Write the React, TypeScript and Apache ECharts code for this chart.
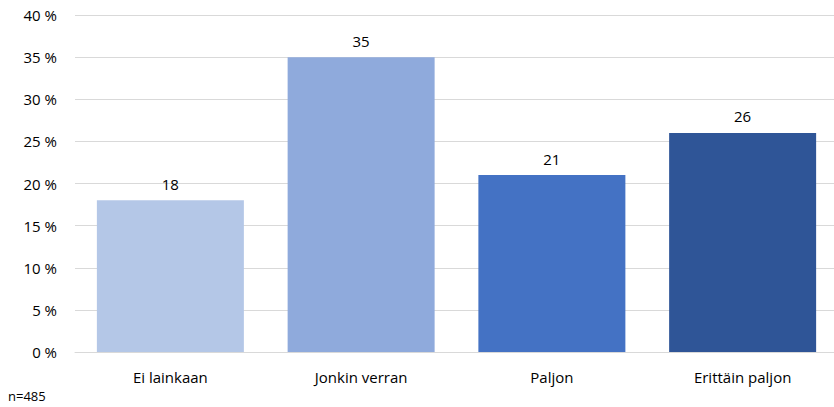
import React, { useEffect, useRef } from "react";
import * as echarts from "echarts";

const categories = ["Ei lainkaan", "Jonkin verran", "Paljon", "Erittäin paljon"];
const values = [18, 35, 21, 26];
const barColors = ["#B4C7E7", "#8FAADC", "#4472C4", "#2F5597"];
const yTicks = { min: 0, max: 40, interval: 5 };
const note = "n=485";

const FONT = "'Open Sans', Lato, sans-serif";

export default function App() {
  const ref = useRef<HTMLDivElement>(null);
  useEffect(() => {
    if (!ref.current) return;
    const chart = echarts.init(ref.current, undefined, { renderer: "svg" });
    chart.setOption({
      animation: false,
      textStyle: { fontFamily: FONT },
      grid: { left: 75, right: 2, top: 15, bottom: 55, containLabel: false },
      xAxis: {
        type: "category",
        data: categories,
        axisLine: { show: true, lineStyle: { color: "#D9D9D9", width: 1 } },
        axisTick: { show: false },
        axisLabel: { color: "#000", fontSize: 15, margin: 17, fontFamily: FONT },
      },
      yAxis: {
        type: "value",
        min: yTicks.min,
        max: yTicks.max,
        interval: yTicks.interval,
        axisLine: { show: false },
        axisTick: { show: false },
        splitLine: { lineStyle: { color: "#D9D9D9", width: 1 } },
        axisLabel: { color: "#000", fontSize: 15, margin: 18, formatter: "{value} %", fontFamily: FONT },
      },
      series: [
        {
          type: "bar",
          data: values.map((v, i) => ({ value: v, itemStyle: { color: barColors[i] } })),
          barWidth: 147,
          label: { show: true, position: "top", distance: 9, color: "#000", fontSize: 15, fontFamily: FONT },
        },
      ],
      graphic: [
        {
          type: "text",
          left: 8,
          top: 389,
          style: { text: note, fill: "#000", fontSize: 13, fontFamily: FONT },
        },
      ],
    });
    return () => chart.dispose();
  }, []);
  return (
    <div style={{ position: "fixed", left: 0, top: 0, width: 834, height: 407, overflow: "hidden", background: "#fff" }}>
      <div ref={ref} style={{ width: 840, height: 407 }} />
    </div>
  );
}
